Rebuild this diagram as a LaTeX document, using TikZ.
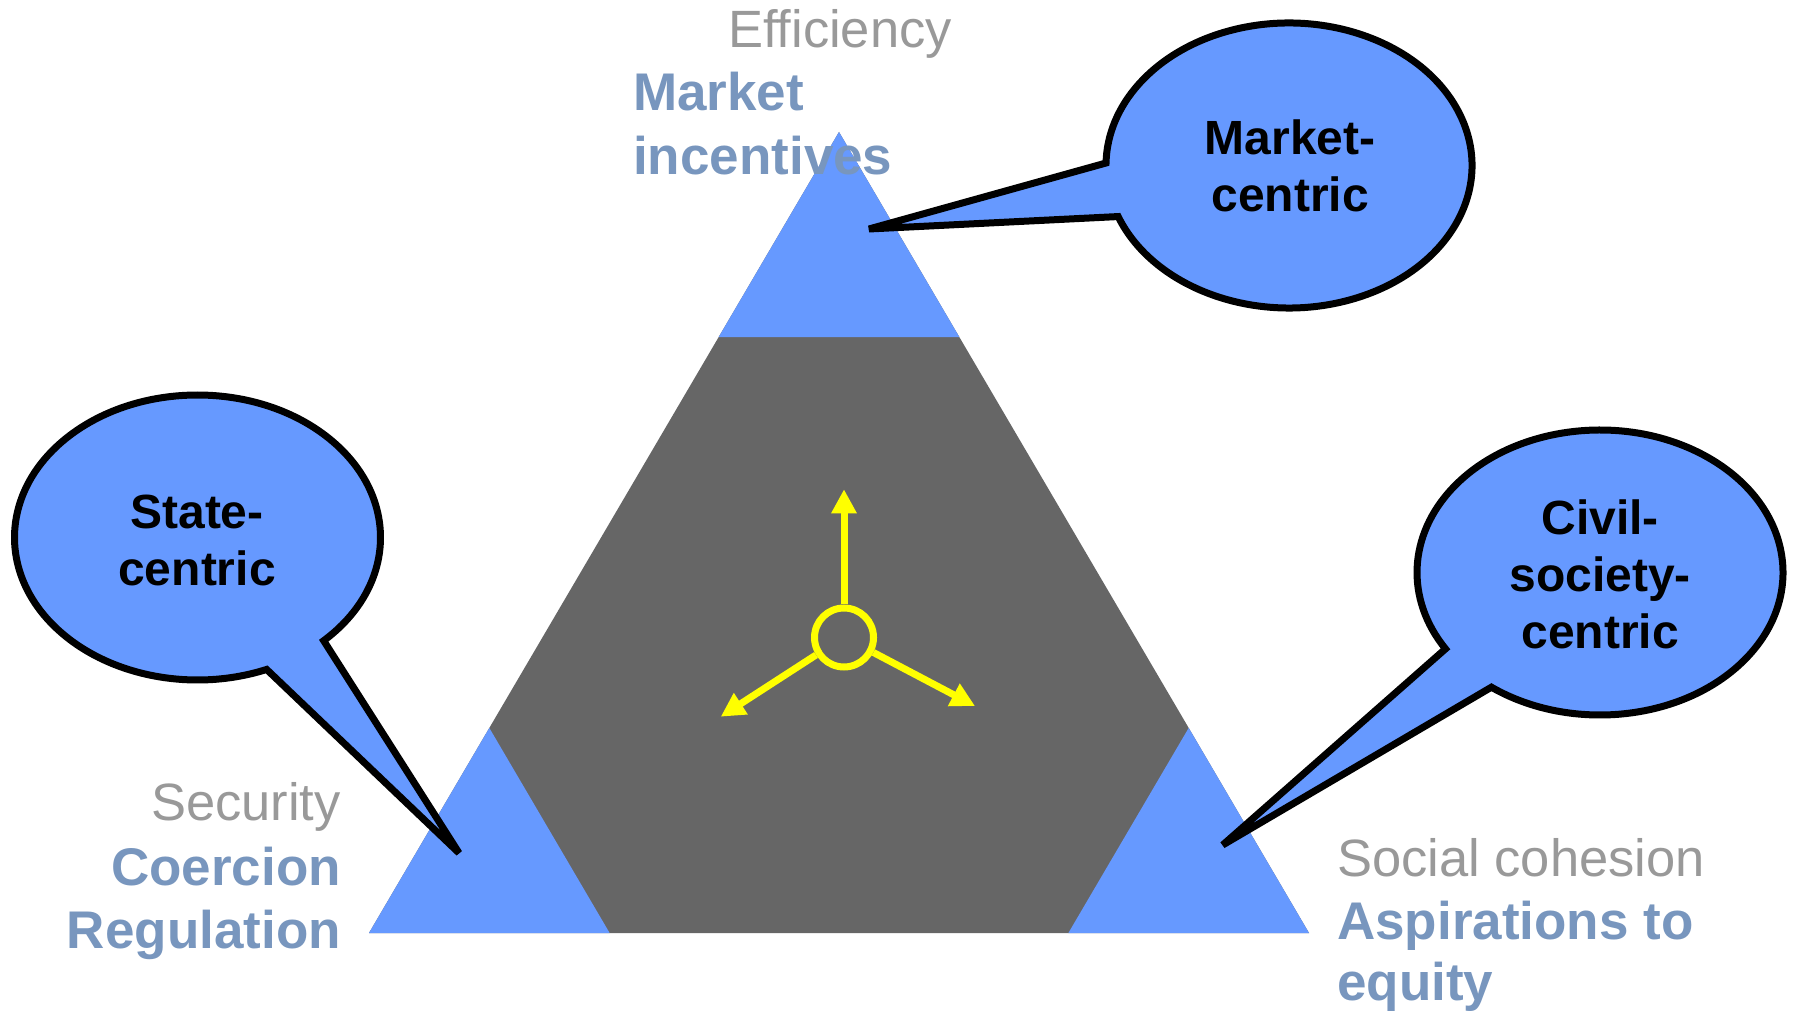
\documentclass[tikz,border=0pt]{standalone}
\usepackage{fontspec}
\setmainfont{Liberation Sans}
\usetikzlibrary{arrows.meta,calc}
\definecolor{tblue}{HTML}{6699FF}
\definecolor{tgray}{HTML}{666666}
\definecolor{lblue}{HTML}{7896BE}
\definecolor{lgray}{HTML}{999999}
\definecolor{yel}{HTML}{FFFF00}
\begin{document}
\begin{tikzpicture}[x=1pt,y=1pt,
  callout/.style={fill=tblue,draw=black,line width=7pt,line join=miter,miter limit=2},
  ctext/.style={font=\fontsize{48}{56}\selectfont\bfseries,text=black,anchor=base,inner sep=0},
  lreg/.style={font=\fontsize{52.5}{62}\selectfont,text=lgray,inner sep=0},
  lbold/.style={font=\fontsize{53}{62}\selectfont\bfseries,text=lblue,inner sep=0},
  yarrow/.style={draw=yel,line width=7pt,-{Triangle[length=24pt,width=24pt]}}]
\useasboundingbox (0,0) rectangle (1795,1012);
\fill[white] (0,0) rectangle (1795,1012);
% main triangle
\coordinate (A) at (839,880);
\coordinate (BL) at (369,79);
\coordinate (BR) at (1309,79);
\coordinate (T1) at ($(A)!0.256!(BL)$);
\coordinate (T2) at ($(A)!0.256!(BR)$);
\coordinate (L1) at ($(BL)!0.256!(A)$);
\coordinate (L2) at ($(BL)!0.256!(BR)$);
\coordinate (R1) at ($(BR)!0.256!(A)$);
\coordinate (R2) at ($(BR)!0.256!(BL)$);
\fill[tgray] (A) -- (BL) -- (BR) -- cycle;
\fill[tblue] (A) -- (T1) -- (T2) -- cycle;
\fill[tblue] (BL) -- (L1) -- (L2) -- cycle;
\fill[tblue] (BR) -- (R1) -- (R2) -- cycle;
% callouts
\coordinate (cM) at (1289,846.5);
\coordinate (tipM) at (869,783);
\coordinate (cS) at (197.5,474.5);
\coordinate (tipS) at (459,159);
\coordinate (cC) at (1600,439.5);
\coordinate (tipC) at (1222.7,167);
\draw[callout] (cM) ++(201:183 and 142.5) arc[start angle=201,end angle=539,x radius=183,y radius=142.5] -- (tipM) -- cycle;
\draw[callout] (cS) ++(313.6:183 and 142.5) arc[start angle=313.6,end angle=652.2,x radius=183,y radius=142.5] -- (tipS) -- cycle;
\draw[callout] (cC) ++(233.6:183 and 142.5) arc[start angle=233.6,end angle=572.4,x radius=183,y radius=142.5] -- (tipC) -- cycle;
\node[ctext] (m1) at (1290,857) {Market-};
\node[ctext] (m2) at (1290,800) {centric};
\node[ctext] (s1) at (197,483) {State-};
\node[ctext] (s2) at (197,426) {centric};
\node[ctext] (c1) at (1600,477) {Civil-};
\node[ctext] (c2) at (1600,420) {society-};
\node[ctext] (c3) at (1600,363) {centric};
% yellow symbol
\node[circle,draw=yel,line width=7pt,minimum size=59pt,inner sep=0] (hub) at (844,374.5) {};
\coordinate (tU) at (844,522.7);
\coordinate (tLd) at (720.7,295.3);
\coordinate (tRd) at (975,306);
\draw[yarrow] (hub.90) -- (tU);
\draw[yarrow] (hub.212) -- (tLd);
\draw[yarrow] (hub.-27) -- (tRd);
% labels
\node[lreg,anchor=base] (eff) at (840,964) {Efficiency};
\node[lbold,anchor=base west] (mk1) at (633,901) {Market};
\node[lbold,anchor=base west] (mk2) at (633,837) {incentives};
\node[lreg,anchor=base east] (sec) at (341,192) {Security};
\node[lbold,anchor=base east] (co) at (341,127) {Coercion};
\node[lbold,anchor=base east] (re) at (341,64) {Regulation};
\node[lreg,anchor=base west] (soc) at (1337,136) {Social cohesion};
\node[lbold,anchor=base west] (asp) at (1337,73) {Aspirations to};
\node[lbold,anchor=base west] (eq) at (1337,12) {equity};
\end{tikzpicture}
\end{document}
